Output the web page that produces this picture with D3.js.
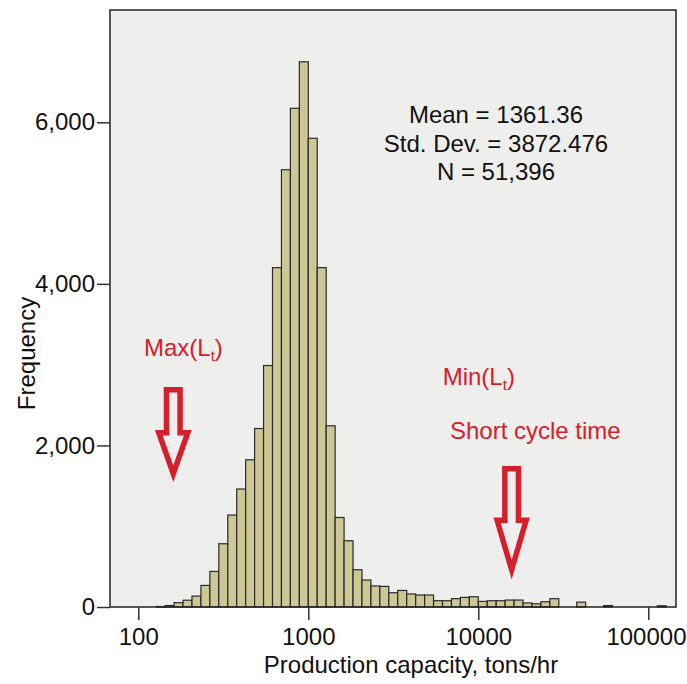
<!DOCTYPE html>
<html>
<head>
<meta charset="utf-8">
<script src="https://cdn.jsdelivr.net/npm/d3@7"></script>
<style>
  body { margin: 0; background: #ffffff; }
  svg { display: block; }
  text { font-family: "Liberation Sans", Arial, Helvetica, sans-serif; }
</style>
</head>
<body>
<svg id="chart" width="687" height="684"></svg>
<script>
// Histogram of production capacity: 19 equal-width bins per decade on a log axis,
// bin index 0 starts at 1000 tons/hr.
const binsPerDecade = 19;
const firstBinIndex = -17;
const binCounts = [
  6, 18, 54, 84, 135, 267, 440, 783, 1138, 1460, 1822, 2209, 2989, 4201, 5413, 6173, 6749,
  5802, 4201, 2243, 1108, 820, 461, 334, 260, 255, 177, 205, 161, 148, 148, 78, 78, 103,
  119, 127, 69, 78, 78, 86, 86, 50, 40, 65, 103, 0, 0, 60, 0, 0, 18, 0, 0, 0, 0, 0, 15
];

const xTickValues = [100, 1000, 10000, 100000];
const yTickValues = [0, 2000, 4000, 6000];
const statsLines = ["Mean = 1361.36", "Std. Dev. = 3872.476", "N = 51,396"];

// Annotation anchors in data units
const maxLabel = { x: 108, y: 3110 };
const maxArrow = { x: 160.6, top: 2688, tip: 1649 };
const minLabel = { x: 6174, y: 2750 };
const shortLabel = { x: 6815, y: 2078, text: "Short cycle time" };
const minArrow = { x: 15710, top: 1711, tip: 461 };
const statsAnchor = { x: 12706, y: 5990 };

const xTitle = "Production capacity, tons/hr";
const yTitle = "Frequency";

const width = 687;
const plot = { left: 110, top: 10, right: 676, bottom: 607 };
const red = "#d4202c";
const fontSize = 24;

const svg = d3.select("#chart");

const x = d3.scaleLog()
  .domain([68.17, 145540])
  .range([plot.left, plot.right]);

const y = d3.scaleLinear()
  .domain([0, 7390])
  .range([plot.bottom, plot.top]);

// bins from counts
const bins = binCounts.map((c, i) => {
  const k = firstBinIndex + i;
  return {
    x0: 1000 * Math.pow(10, k / binsPerDecade),
    x1: 1000 * Math.pow(10, (k + 1) / binsPerDecade),
    count: c
  };
});

// plot background
svg.append("rect")
  .attr("x", plot.left).attr("y", plot.top)
  .attr("width", plot.right - plot.left)
  .attr("height", plot.bottom - plot.top)
  .attr("fill", "#eeeeec");

// bars
svg.append("g")
  .selectAll("rect")
  .data(bins.filter(b => b.count > 0))
  .join("rect")
  .attr("x", d => x(d.x0))
  .attr("width", d => x(d.x1) - x(d.x0))
  .attr("y", d => y(d.count))
  .attr("height", d => y(0) - y(d.count))
  .attr("fill", "#ccc795")
  .attr("stroke", "#2a2a2a")
  .attr("stroke-width", 1.2);

// frame
svg.append("rect")
  .attr("x", plot.left).attr("y", plot.top)
  .attr("width", plot.right - plot.left)
  .attr("height", plot.bottom - plot.top)
  .attr("fill", "none")
  .attr("stroke", "#222")
  .attr("stroke-width", 1.5);

// x axis
const xAxis = svg.append("g")
  .attr("transform", `translate(0,${plot.bottom})`)
  .call(d3.axisBottom(x).tickValues(xTickValues).tickFormat(d3.format("d")).tickSize(13).tickPadding(8));
xAxis.select(".domain").remove();
xAxis.selectAll(".tick line").attr("stroke", "#333").attr("stroke-width", 1.5);
xAxis.selectAll(".tick text")
  .attr("font-size", fontSize)
  .attr("fill", "#111")
  .style("font-family", "'Liberation Sans', Arial, sans-serif");
// keep the last tick label inside the page
xAxis.selectAll(".tick text").each(function (d) {
  const node = this;
  const half = node.getComputedTextLength() / 2;
  const overflow = x(d) + half - (width - 1);
  if (overflow > 0) d3.select(node).attr("x", -overflow);
});

// y axis
const yAxis = svg.append("g")
  .attr("transform", `translate(${plot.left},0)`)
  .call(d3.axisLeft(y).tickValues(yTickValues).tickFormat(d3.format(",")).tickSize(13).tickPadding(2));
yAxis.select(".domain").remove();
yAxis.selectAll(".tick line").attr("stroke", "#333").attr("stroke-width", 1.5);
yAxis.selectAll(".tick text")
  .attr("font-size", fontSize)
  .attr("fill", "#111")
  .style("font-family", "'Liberation Sans', Arial, sans-serif");

// axis titles
svg.append("text")
  .attr("x", (plot.left + plot.right) / 2 + 18)
  .attr("y", 673)
  .attr("text-anchor", "middle")
  .attr("font-size", fontSize)
  .attr("fill", "#111")
  .text(xTitle);

svg.append("text")
  .attr("transform", `translate(35,${(plot.top + plot.bottom) / 2 + 45}) rotate(-90)`)
  .attr("text-anchor", "middle")
  .attr("font-size", fontSize)
  .attr("fill", "#111")
  .text(yTitle);

// summary statistics
svg.append("g")
  .selectAll("text")
  .data(statsLines)
  .join("text")
  .attr("x", x(statsAnchor.x))
  .attr("y", (d, i) => y(statsAnchor.y) + i * 28.5)
  .attr("text-anchor", "middle")
  .attr("font-size", fontSize)
  .attr("fill", "#111")
  .text(d => d);

// red annotations with subscript t
function subLabel(px, py, head) {
  const t = svg.append("text")
    .attr("x", px).attr("y", py)
    .attr("font-size", fontSize)
    .attr("fill", red);
  t.append("tspan").text(head + "(L");
  t.append("tspan").attr("font-size", 15).attr("dy", 5).text("t");
  t.append("tspan").attr("dy", -5).text(")");
}
subLabel(x(maxLabel.x), y(maxLabel.y), "Max");
subLabel(x(minLabel.x), y(minLabel.y), "Min");

svg.append("text")
  .attr("x", x(shortLabel.x)).attr("y", y(shortLabel.y))
  .attr("font-size", fontSize)
  .attr("fill", red)
  .text(shortLabel.text);

// hollow down arrows
function hollowArrow(a) {
  const cx = x(a.x), top = y(a.top), tip = y(a.tip);
  const shaftHalf = 6.8, headHalf = 14.5;
  const headLen = (tip - top) * 0.49;
  const headY = tip - headLen;
  const pts = [
    [cx - shaftHalf, top], [cx + shaftHalf, top], [cx + shaftHalf, headY],
    [cx + headHalf, headY], [cx, tip], [cx - headHalf, headY], [cx - shaftHalf, headY]
  ];
  svg.append("path")
    .attr("d", d3.line()(pts) + "Z")
    .attr("fill", "none")
    .attr("stroke", red)
    .attr("stroke-width", 5.5)
    .attr("stroke-linejoin", "miter")
    .attr("stroke-miterlimit", 10);
}
hollowArrow(maxArrow);
hollowArrow(minArrow);
</script>
</body>
</html>
